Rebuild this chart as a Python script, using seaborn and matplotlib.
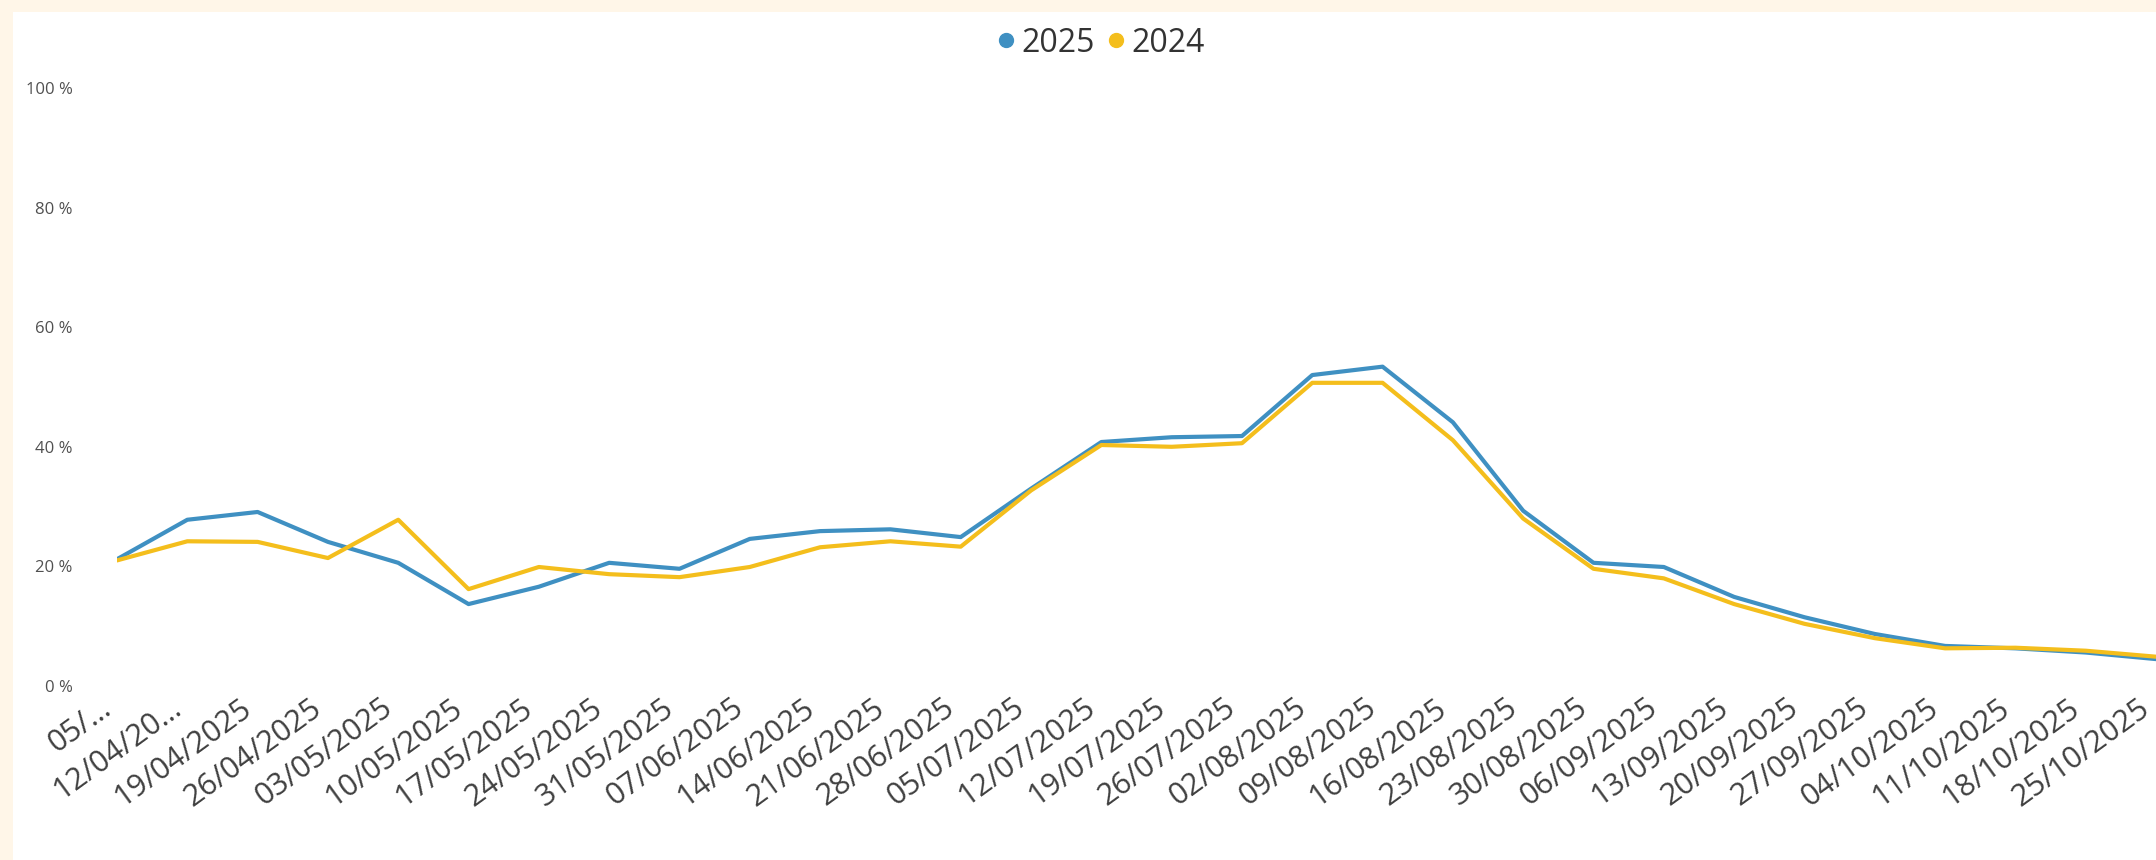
'''
Weekly rate trend, 2025 vs 2024
'''

import pandas as pd
import matplotlib
matplotlib.use("Agg")
import matplotlib.pyplot as plt
from matplotlib.lines import Line2D
from matplotlib.patches import Rectangle
from matplotlib.ticker import FuncFormatter
from matplotlib.transforms import ScaledTranslation
import seaborn as sns

#Week ending dates (x axis categories)
weeks = ["05/04/2025", "12/04/2025", "19/04/2025", "26/04/2025", "03/05/2025",
         "10/05/2025", "17/05/2025", "24/05/2025", "31/05/2025", "07/06/2025",
         "14/06/2025", "21/06/2025", "28/06/2025", "05/07/2025", "12/07/2025",
         "19/07/2025", "26/07/2025", "02/08/2025", "09/08/2025", "16/08/2025",
         "23/08/2025", "30/08/2025", "06/09/2025", "13/09/2025", "20/09/2025",
         "27/09/2025", "04/10/2025", "11/10/2025", "18/10/2025", "25/10/2025"]

#Tick labels as shown (first two get truncated in the original)
tick_labels = ["05/\u2026", "12/04/20\u2026"] + weeks[2:]

#Series values (%)
vals_2025 = [21.2, 27.8, 29.1, 24.1, 20.6, 13.7, 16.6, 20.6, 19.6, 24.6,
             25.9, 26.2, 24.9, 33.0, 40.8, 41.6, 41.8, 52.0, 53.4, 44.1,
             29.3, 20.6, 19.9, 14.9, 11.5, 8.7, 6.7, 6.3, 5.6, 4.5]
vals_2024 = [21.0, 24.2, 24.1, 21.4, 27.8, 16.2, 19.9, 18.7, 18.2, 19.9,
             23.2, 24.2, 23.3, 32.7, 40.3, 40.0, 40.6, 50.7, 50.7, 41.1,
             28.0, 19.6, 18.0, 13.7, 10.4, 8.0, 6.3, 6.4, 5.9, 4.9]

series_names = ["2025", "2024"]
y_ticks = [0, 20, 40, 60, 80, 100]

#Colours
colours = {"2025": "#3F90C2", "2024": "#F4BE1C"}
cream = "#FFF6E8"
text_grey = "#404040"

#Build long-form table for seaborn
df = pd.concat([
    pd.DataFrame({"week": weeks, "year": "2025", "value": vals_2025}),
    pd.DataFrame({"week": weeks, "year": "2024", "value": vals_2024}),
], ignore_index=True)

sns.set_style("white")
plt.rcParams["font.family"] = ["Open Sans", "DejaVu Sans"]

fig = plt.figure(figsize=(21.56, 8.6), dpi=100)
fig.patch.set_facecolor(cream)

#White panel with the cream strip left and top
fig.add_artist(Rectangle((13 / 2156, 0), 1, 1 - 12 / 860,
                         transform=fig.transFigure, facecolor="white",
                         edgecolor="none", zorder=0))

ax = fig.add_axes([117 / 2156, 1 - 686 / 860, 1 - 117 / 2156, (686 - 88) / 860])
ax.set_facecolor("none")

sns.lineplot(
    data=df,
    x="week",
    y="value",
    hue="year",
    hue_order=series_names,
    palette=colours,
    sort=False,
    linewidth=3,
    legend=False,
    ax=ax
)

#Remove box from graph
sns.despine(ax=ax, left=True, bottom=True)

#Axes formatting
ax.set_xlim(0, len(weeks) - 1)
ax.set_ylim(0, 100)
ax.set_yticks(y_ticks)
ax.yaxis.set_major_formatter(FuncFormatter(lambda v, p: f"{v:.0f} %"))
ax.tick_params("y", length=0, pad=32, labelsize=12, labelcolor="#505050")

ax.set_xticks(range(len(weeks)))
ax.set_xticklabels(tick_labels, rotation=36, ha="right", va="top",
                   rotation_mode="anchor")
ax.tick_params("x", length=0, pad=5, labelsize=22, labelcolor=text_grey)

#Nudge the date labels a little left, like the original
shift = ScaledTranslation(-18 / 100, 0, fig.dpi_scale_trans)
for lbl in ax.get_xticklabels():
    lbl.set_transform(lbl.get_transform() + shift)

ax.set_xlabel(None)
ax.set_ylabel(None)
ax.grid(False)

#Legend at top centre with dot markers
handles = [Line2D([], [], marker="o", linestyle="none", markersize=10,
                  color=colours[s]) for s in series_names]
fig.legend(handles, series_names, loc="center", bbox_to_anchor=(0.509, 0.95),
           ncol=2, frameon=False, fontsize=23, handlelength=1.0,
           handletextpad=0.0, columnspacing=0.15, labelcolor="#333333")

plt.savefig("out.png", dpi=100, facecolor=fig.get_facecolor())
